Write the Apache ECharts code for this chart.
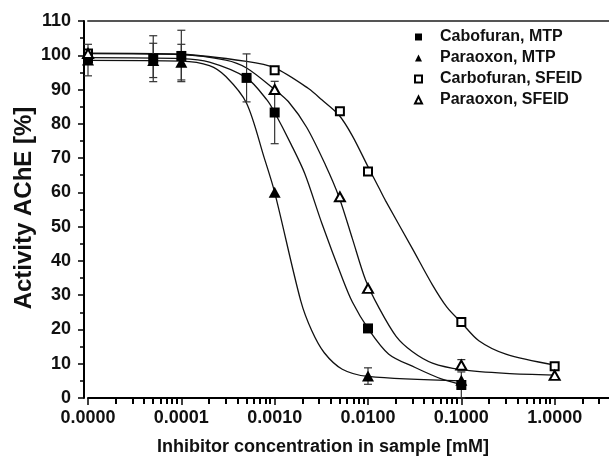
<!DOCTYPE html>
<html>
<head>
<meta charset="utf-8">
<script src="https://cdn.jsdelivr.net/npm/echarts@6/dist/echarts.min.js"></script>
<style>
  html, body { margin: 0; padding: 0; background: #fff; }
  #chart { width: 609px; height: 465px; }
</style>
</head>
<body>
<div id="chart"></div>
<script>
// measured points, concentration in mM
const carboMtpX = [0.00001, 0.00005, 0.0001, 0.0005, 0.001, 0.01, 0.1]
const carboMtpY = [99.2, 99.0, 99.8, 93.4, 83.3, 20.3, 3.8]
const carboMtpSd = [0, 6.7, 7.5, 7.0, 9.1, 0, 3.8]

const paraMtpX = [0.00001, 0.00005, 0.0001, 0.001, 0.01, 0.1]
const paraMtpY = [98.6, 98.5, 98.0, 60.0, 6.4, 5.2]
const paraMtpSd = [4.6, 5.0, 5.2, 0, 2.4, 0]

const carboSfeidX = [0.00001, 0.001, 0.005, 0.01, 0.1, 1]
const carboSfeidY = [100.5, 95.6, 83.7, 66.1, 22.2, 9.3]

const paraSfeidX = [0.00001, 0.001, 0.005, 0.01, 0.1, 1]
const paraSfeidY = [100.5, 90.0, 58.7, 32.0, 9.6, 6.6]
const paraSfeidSd = [0, 0, 0, 0, 1.6, 0]

// fitted curves
const fitCarboMtpX = [0.00001, 0.0001, 0.0002, 0.0005, 0.00083, 0.001, 0.0015, 0.0021, 0.0032, 0.0053, 0.0068, 0.01, 0.0167, 0.032, 0.062, 0.1]
const fitCarboMtpY = [99.3, 99.0, 98.0, 93.4, 86.9, 83.3, 74.0, 65.5, 51.0, 35.0, 28.0, 20.3, 12.8, 8.9, 5.5, 4.0]

const fitParaMtpX = [0.00001, 0.0001, 0.0002, 0.0003, 0.0005, 0.00077, 0.001, 0.0019, 0.0025, 0.0034, 0.0053, 0.01, 0.1]
const fitParaMtpY = [98.5, 98.3, 97.0, 93.8, 86.0, 70.2, 60.0, 28.4, 19.6, 13.2, 8.4, 6.3, 5.0]

const fitCarboSfeidX = [0.00001, 0.0001, 0.0005, 0.001, 0.0023, 0.0032, 0.0049, 0.0068, 0.01, 0.013, 0.0154, 0.03, 0.049, 0.07, 0.1, 0.154, 0.3, 1]
const fitCarboSfeidY = [100.6, 100.3, 98.2, 96.3, 90.3, 87.0, 82.5, 76.5, 67.5, 61.5, 57.6, 43.5, 33.0, 26.5, 22.0, 16.7, 12.8, 9.6]

const fitParaSfeidX = [0.00001, 0.0001, 0.0003, 0.0005, 0.001, 0.0014, 0.0022, 0.0035, 0.0049, 0.0068, 0.0094, 0.013, 0.02, 0.03, 0.049, 0.1, 0.3, 1]
const fitParaSfeidY = [100.5, 100.2, 98.6, 96.3, 90.0, 86.5, 79.0, 68.0, 58.6, 46.5, 34.5, 26.5, 18.0, 13.5, 10.2, 8.3, 7.2, 6.7]

// minor ticks of the log axis: 2..9 in each decade
const tickDecades = [0.00001, 0.0001, 0.001, 0.01, 0.1, 1]
const tickSteps = [2, 3, 4, 5, 6, 7, 8, 9]

const font = 'Liberation Sans, Arial, Helvetica, sans-serif'
const pairs = (xs, ys) => xs.map((x, i) => [x, ys[i]])

const errData = []
;[[carboMtpX, carboMtpY, carboMtpSd], [paraMtpX, paraMtpY, paraMtpSd], [paraSfeidX, paraSfeidY, paraSfeidSd]].forEach(([xs, ys, sd]) => {
  xs.forEach((x, i) => { if (sd[i] > 0) errData.push([x, ys[i], sd[i]]) })
})

const minorTickValues = []
tickDecades.forEach(d => tickSteps.forEach(s => minorTickValues.push(d * s)))

const fitLine = (xs, ys) => ({
  type: 'line',
  data: pairs(xs, ys),
  showSymbol: false,
  symbol: 'none',
  smooth: 0.3,
  silent: true,
  lineStyle: { color: '#111', width: 1.3 },
  z: 2
})

const chart = echarts.init(document.getElementById('chart'))
chart.setOption({
  animation: false,
  textStyle: { fontFamily: font },
  grid: { left: 88, right: -39, top: 21, bottom: 67, containLabel: false, outerBoundsMode: 'none' },
  legend: {
    orient: 'vertical',
    left: 409,
    top: 24,
    itemGap: 5,
    itemWidth: 7,
    itemHeight: 7,
    textStyle: { fontSize: 16, fontWeight: 'bold', color: '#111', fontFamily: font, padding: [0, 0, 0, 13] },
    data: ['Cabofuran, MTP', 'Paraoxon, MTP', 'Carbofuran, SFEID', 'Paraoxon, SFEID']
  },
  xAxis: [
    {
      type: 'log',
      logBase: 10,
      min: 0.00001,
      max: 10,
      position: 'bottom',
      axisLine: { lineStyle: { color: '#000', width: 2 } },
      axisTick: { length: 7, lineStyle: { color: '#000', width: 1.5 } },
      axisLabel: { fontSize: 18, fontWeight: 'bold', color: '#111', margin: 11, formatter: v => v.toFixed(4) },
      splitLine: { show: false }
    },
    {
      type: 'log',
      logBase: 10,
      min: 0.00001,
      max: 10,
      position: 'top',
      axisLine: { lineStyle: { color: '#555', width: 2 } },
      axisTick: { show: false },
      axisLabel: { show: false },
      splitLine: { show: false }
    }
  ],
  yAxis: {
    type: 'value',
    min: 0,
    max: 110,
    interval: 10,
    offset: 4,
    axisLine: { show: true, lineStyle: { color: '#000', width: 2 } },
    axisTick: { show: true, length: 6, lineStyle: { color: '#000', width: 1.5 } },
    minorTick: { show: true, splitNumber: 2, length: 4, lineStyle: { color: '#000', width: 1.5 } },
    axisLabel: { fontSize: 18, fontWeight: 'bold', color: '#111', margin: 13 },
    splitLine: { show: false }
  },
  graphic: [
    {
      id: 'xTitle',
      type: 'text',
      x: 323,
      y: 447,
      style: { text: 'Inhibitor concentration in sample [mM]', align: 'center', verticalAlign: 'middle', fontSize: 18, fontWeight: 'bold', fontFamily: font, fill: '#111' }
    },
    {
      id: 'yTitle',
      type: 'text',
      x: 24,
      y: 208,
      rotation: Math.PI / 2,
      style: { text: 'Activity AChE [%]', align: 'center', verticalAlign: 'middle', fontSize: 24, fontWeight: 'bold', fontFamily: font, fill: '#111' }
    }
  ],
  series: [
    fitLine(fitCarboMtpX, fitCarboMtpY),
    fitLine(fitParaMtpX, fitParaMtpY),
    fitLine(fitCarboSfeidX, fitCarboSfeidY),
    fitLine(fitParaSfeidX, fitParaSfeidY),
    {
      type: 'custom',
      data: errData,
      encode: { x: 0, y: 1 },
      silent: true,
      z: 3,
      renderItem: (params, api) => {
        const x = api.value(0)
        const y = api.value(1)
        const sd = api.value(2)
        const hi = api.coord([x, y + sd])
        const lo = api.coord([x, y - sd])
        const w = 4
        const style = { stroke: '#333', lineWidth: 1.2 }
        return {
          type: 'group',
          children: [
            { type: 'line', shape: { x1: hi[0], y1: hi[1], x2: lo[0], y2: lo[1] }, style },
            { type: 'line', shape: { x1: hi[0] - w, y1: hi[1], x2: hi[0] + w, y2: hi[1] }, style },
            { type: 'line', shape: { x1: lo[0] - w, y1: lo[1], x2: lo[0] + w, y2: lo[1] }, style }
          ]
        }
      }
    },
    {
      name: 'Cabofuran, MTP',
      type: 'scatter',
      data: pairs(carboMtpX, carboMtpY),
      symbol: 'rect',
      symbolSize: 10,
      itemStyle: { color: '#000', opacity: 1 },
      z: 4
    },
    {
      name: 'Paraoxon, MTP',
      type: 'scatter',
      data: pairs(paraMtpX, paraMtpY),
      symbol: 'triangle',
      symbolSize: [12, 11],
      itemStyle: { color: '#000', opacity: 1 },
      z: 4
    },
    {
      name: 'Carbofuran, SFEID',
      type: 'scatter',
      data: pairs(carboSfeidX, carboSfeidY),
      symbol: 'rect',
      symbolSize: 8,
      itemStyle: { color: '#fff', borderColor: '#000', borderWidth: 2, opacity: 1 },
      z: 5
    },
    {
      name: 'Paraoxon, SFEID',
      type: 'scatter',
      data: pairs(paraSfeidX, paraSfeidY),
      symbol: 'triangle',
      symbolSize: [10, 9],
      itemStyle: { color: '#fff', borderColor: '#000', borderWidth: 2, opacity: 1 },
      z: 5
    }
  ]
})

// minor ticks of the log axis, placed through the axis scale
const axisY = chart.convertToPixel({ yAxisIndex: 0 }, 0)
const tickLines = minorTickValues.map((v, i) => {
  const px = Math.round(chart.convertToPixel({ xAxisIndex: 0 }, v))
  return {
    id: 'minorTick' + i,
    type: 'line',
    z: 100,
    silent: true,
    shape: { x1: px, y1: axisY, x2: px, y2: axisY + 6 },
    style: { stroke: '#000', lineWidth: 2 }
  }
})
chart.setOption({ graphic: tickLines })
</script>
</body>
</html>
